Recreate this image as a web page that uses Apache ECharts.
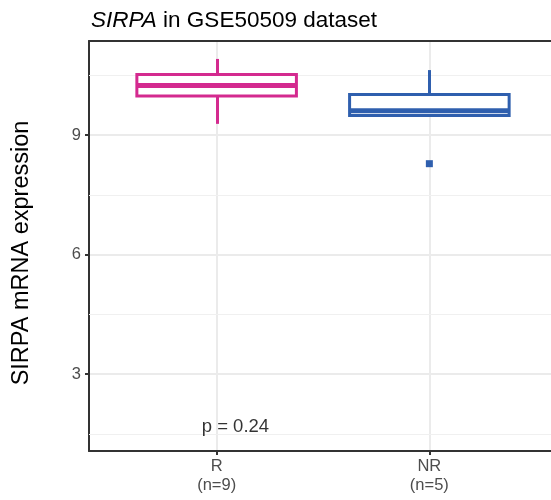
<!DOCTYPE html>
<html>
<head>
<meta charset="utf-8">
<script src="https://cdn.jsdelivr.net/npm/echarts@6/dist/echarts.min.js"></script>
<style>
  html, body { margin: 0; padding: 0; background: #fff; }
  #chart { width: 551px; height: 500px; }
</style>
</head>
<body>
<div id="chart"></div>
<script>
// 数据
var categories = ['R', 'NR'];
var counts = [9, 5];
var boxLow = [9.28, 9.49];
var boxQ1 = [9.98, 9.49];
var boxMedian = [10.24, 9.61];
var boxQ3 = [10.52, 10.02];
var boxHigh = [10.91, 10.63];
var outliers = [[2, 8.28]];
var boxColors = ['#D42A8F', '#2F5FAE'];
var yTicks = [3, 6, 9];
var yMinorTicks = [1.5, 4.5, 7.5, 10.5];
var xTicks = [1, 2];
var pText = 'p = 0.24';
var pAt = [0.93, 1.68];

var chart = echarts.init(document.getElementById('chart'));

var boxData = categories.map(function(c, i) {
    return [i + 1, boxLow[i], boxQ1[i], boxMedian[i], boxQ3[i], boxHigh[i]];
});

// 箱线图
function renderBox(params, api) {
    var x = api.value(0);
    var half = 0.375;
    var lo = api.coord([x, api.value(1)]);
    var q1 = api.coord([x, api.value(2)]);
    var med = api.coord([x, api.value(3)]);
    var q3 = api.coord([x, api.value(4)]);
    var hi = api.coord([x, api.value(5)]);
    var left = api.coord([x - half, api.value(3)])[0];
    var right = api.coord([x + half, api.value(3)])[0];
    var cx = Math.round(hi[0]) + 0.5;
    var color = boxColors[params.dataIndex];
    return {
        type: 'group',
        children: [
            { type: 'line', shape: { x1: cx, y1: hi[1], x2: cx, y2: q3[1] }, style: { stroke: color, lineWidth: 3 } },
            { type: 'line', shape: { x1: cx, y1: lo[1], x2: cx, y2: q1[1] }, style: { stroke: color, lineWidth: 3 } },
            { type: 'rect', shape: { x: left, y: q3[1], width: right - left, height: q1[1] - q3[1] }, style: { fill: '#fff', stroke: color, lineWidth: 3 } },
            { type: 'line', shape: { x1: left, y1: med[1], x2: right, y2: med[1] }, style: { stroke: color, lineWidth: 5 } }
        ]
    };
}

var frameLine = { show: true, lineStyle: { color: '#333', width: 2 } };

var option = {
    animation: false,
    backgroundColor: '#fff',
    title: {
        text: '{i|SIRPA} in GSE50509 dataset',
        left: 86,
        top: 4,
        textStyle: {
            fontFamily: 'Liberation Sans',
            fontSize: 22.5,
            fontWeight: 'normal',
            color: '#000',
            rich: {
                i: { fontFamily: 'Liberation Sans', fontSize: 22.5, fontStyle: 'italic', color: '#000' }
            }
        }
    },
    grid: {
        left: 89,
        top: 41,
        width: 468,
        bottom: 49,
        outerBoundsMode: 'none',
        show: false
    },
    xAxis: [
        {
            type: 'value',
            min: 0.4,
            max: 2.6,
            axisLine: frameLine,
            axisTick: { show: true, customValues: xTicks, length: 4, lineStyle: { color: '#333', width: 2 } },
            axisLabel: {
                customValues: xTicks,
                margin: 6,
                fontFamily: 'Liberation Sans',
                fontSize: 16.5,
                lineHeight: 19,
                color: '#4D4D4D',
                formatter: function(v) {
                    var i = Math.round(v) - 1;
                    return categories[i] + '\n(n=' + counts[i] + ')';
                }
            },
            splitLine: { show: true, lineStyle: { color: '#EBEBEB', width: 2 } }
        },
        {
            // 顶部边框
            type: 'value',
            position: 'top',
            min: 0.4,
            max: 2.6,
            axisLine: frameLine,
            axisTick: { show: false },
            axisLabel: { show: false },
            splitLine: { show: false }
        }
    ],
    yAxis: {
        type: 'value',
        min: 1.067,
        max: 11.36,
        name: 'SIRPA mRNA expression',
        nameLocation: 'middle',
        nameGap: 55,
        nameTextStyle: { fontFamily: 'Liberation Sans', fontSize: 23.5, color: '#000', padding: [0, 14, 0, 0] },
        axisLine: frameLine,
        axisTick: { show: true, customValues: yTicks, length: 4, lineStyle: { color: '#333', width: 2 } },
        axisLabel: {
            customValues: yTicks,
            margin: 8,
            fontFamily: 'Liberation Sans',
            fontSize: 16.5,
            color: '#4D4D4D'
        },
        splitLine: { show: true, lineStyle: { color: '#EBEBEB', width: 2 } }
    },
    series: [
        {
            // 次网格线
            type: 'line',
            data: [],
            z: 1,
            markLine: {
                z: 1,
                silent: true,
                symbol: 'none',
                label: { show: false },
                lineStyle: { color: '#F0F0F0', width: 1, type: 'solid' },
                data: yMinorTicks.map(function(v) { return { yAxis: v }; })
            }
        },
        {
            type: 'custom',
            z: 3,
            renderItem: renderBox,
            encode: { x: 0, y: [1, 2, 3, 4, 5] },
            data: boxData
        },
        {
            type: 'scatter',
            z: 4,
            symbol: 'rect',
            symbolSize: 7,
            itemStyle: { color: boxColors[1], opacity: 1 },
            data: outliers
        },
        {
            type: 'scatter',
            z: 4,
            symbolSize: 0,
            data: [pAt],
            label: {
                show: true,
                position: 'right',
                distance: 0,
                formatter: pText,
                fontFamily: 'Liberation Sans',
                fontSize: 18.5,
                color: '#000'
            }
        }
    ]
};

chart.setOption(option);
</script>
</body>
</html>
